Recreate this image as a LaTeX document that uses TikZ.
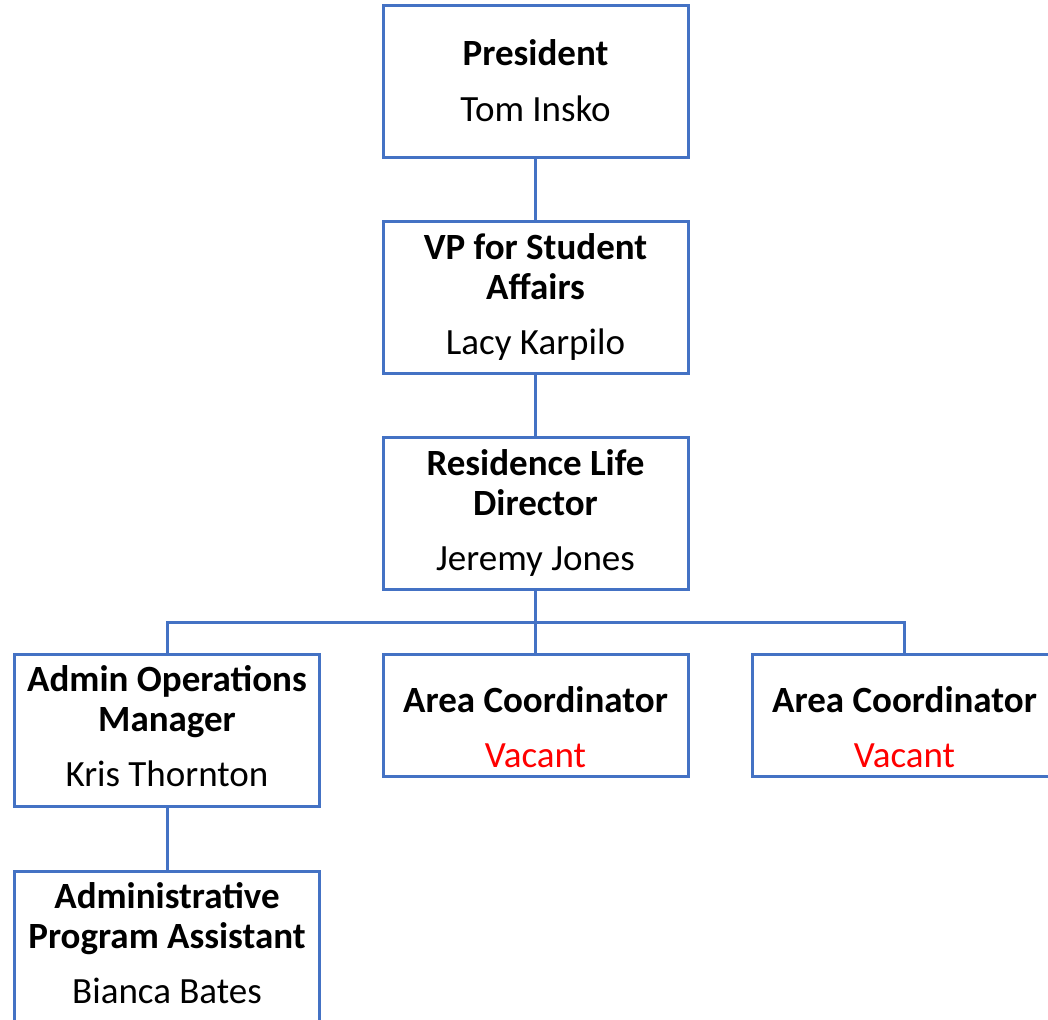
\documentclass[tikz,border=0pt]{standalone}
\usepackage{fontspec}
\setmainfont{Carlito}
\usetikzlibrary{calc}
\definecolor{boxblue}{HTML}{4472C4}
\definecolor{vacantred}{HTML}{FF0000}
\newcommand{\lowerstrut}{\rule{0pt}{25pt}}
\tikzset{
	post/.style={draw=boxblue, line width=1.5pt, fill=white, align=center, inner sep=0pt, outer sep=0pt, minimum width=152.5pt, minimum height=76pt, font=\fontsize{18.5}{20}\selectfont},
	shortpost/.style={post, minimum height=61pt},
	link/.style={draw=boxblue, line width=1.5pt}
}

\begin{document}
\begin{tikzpicture}[x=0.5pt, y=-0.5pt]
			%%%%% START %%%%%
			
			\useasboundingbox (0, 0) rectangle (1048, 1019);
			
			\node[post] (pres) at (535.5, 81) {\textbf{President}\\[8pt] Tom Insko};
			\node[post] (vp) at (535.5, 297) {\textbf{VP for Student}\\ \textbf{Affairs}\\[7.5pt] Lacy Karpilo};
			\node[post] (rld) at (535.5, 513) {\textbf{Residence Life}\\ \textbf{Director}\\[7.5pt] Jeremy Jones};
			
			\node[post] (aom) at (167, 730) {\textbf{Admin Operations}\\ \textbf{Manager}\\[7.5pt] Kris Thornton\\[-16pt]};
			\node[shortpost] (acone) at (535.5, 715) {\lowerstrut\textbf{Area Coordinator}\\[7.5pt] \textcolor{vacantred}{Vacant}};
			\node[shortpost] (actwo) at (904.5, 715) {\lowerstrut\textbf{Area Coordinator}\\[7.5pt] \textcolor{vacantred}{Vacant}};
			
			\node[post] (aps) at (167, 947) {\textbf{Administrative}\\ \textbf{Program Assistant}\\[7.5pt] Bianca Bates\\[-16pt]};
			
			\coordinate (bus) at (535.5, 622);
			
			\draw[link] (pres.south) -- (vp.north);
			\draw[link] (vp.south) -- (rld.north);
			\draw[link] (rld.south) -- (acone.north);
			\draw[link] (aom.north) |- (bus) -| (actwo.north);
			\draw[link] (aom.south) -- (aps.north);
			
			%%%%% END %%%%%
		\end{tikzpicture}
\end{document}
